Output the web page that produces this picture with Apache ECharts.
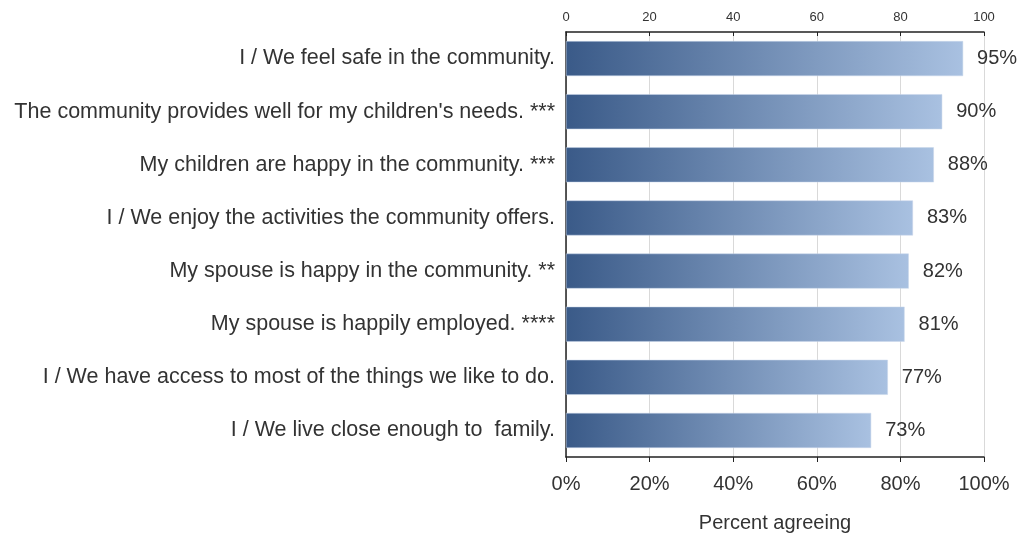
<!DOCTYPE html>
<html>
<head>
<meta charset="utf-8">
<script src="https://cdn.jsdelivr.net/npm/echarts@6/dist/echarts.min.js"></script>
<style>
  html, body { margin: 0; padding: 0; background: #ffffff; }
  #chart { width: 1024px; height: 540px; }
</style>
</head>
<body>
<div id="chart"></div>
<script>
// Survey statements, top to bottom
const statements = [
  'I / We feel safe in the community.',
  "The community provides well for my children's needs. ***",
  'My children are happy in the community. ***',
  'I / We enjoy the activities the community offers.',
  'My spouse is happy in the community. **',
  'My spouse is happily employed. ****',
  'I / We have access to most of the things we like to do.',
  'I / We live close enough to  family.'
];
// Percent agreeing with each statement
const percentAgreeing = [95, 90, 88, 83, 82, 81, 77, 73];
// Axis tick values
const axisTicks = [0, 20, 40, 60, 80, 100];

const chart = echarts.init(document.getElementById('chart'));
const FONT = '"Liberation Sans", Arial, sans-serif';
const TEXT = '#333333';

chart.setOption({
  backgroundColor: '#ffffff',
  animation: false,
  grid: {
    left: 566, right: 40, top: 32, bottom: 83,
    containLabel: false, outerBoundsMode: 'none'
  },
  xAxis: [
    {
      type: 'value', position: 'bottom',
      min: axisTicks[0], max: axisTicks[axisTicks.length - 1], interval: 20,
      name: 'Percent agreeing', nameLocation: 'middle', nameGap: 56,
      nameTextStyle: { fontFamily: FONT, fontSize: 20, color: TEXT },
      axisLine: { show: true, lineStyle: { color: '#222', width: 1.5 } },
      axisTick: { show: true, length: 5, lineStyle: { color: '#222' } },
      axisLabel: { formatter: v => v + '%', fontFamily: FONT, fontSize: 20, color: TEXT, margin: 17 },
      splitLine: { show: true, lineStyle: { color: '#d9d9d9', width: 1 } }
    },
    {
      type: 'value', position: 'top',
      min: axisTicks[0], max: axisTicks[axisTicks.length - 1], interval: 20,
      axisLine: { show: true, lineStyle: { color: '#222', width: 1.5 } },
      axisTick: { show: true, inside: true, length: 4, lineStyle: { color: '#222' } },
      axisLabel: { fontFamily: FONT, fontSize: 13, color: TEXT, margin: 8 },
      splitLine: { show: false }
    }
  ],
  yAxis: {
    type: 'category', inverse: true, data: statements,
    axisLine: { show: true, lineStyle: { color: '#222', width: 1.5 } },
    axisTick: { show: false },
    axisLabel: { fontFamily: FONT, fontSize: 21.5, color: TEXT, margin: 11, padding: [4, 0, 0, 0] }
  },
  series: [{
    type: 'bar', xAxisIndex: 0,
    data: percentAgreeing,
    barWidth: 35,
    itemStyle: {
      color: new echarts.graphic.LinearGradient(0, 0, 1, 0, [
        { offset: 0, color: '#3a5a88' },
        { offset: 1, color: '#a9c1e1' }
      ]),
      borderColor: '#c8d6ea', borderWidth: 0.5
    },
    label: {
      show: true, position: 'right', distance: 14,
      formatter: p => p.value + '%',
      fontFamily: FONT, fontSize: 20, color: TEXT
    }
  }]
});
</script>
</body>
</html>
